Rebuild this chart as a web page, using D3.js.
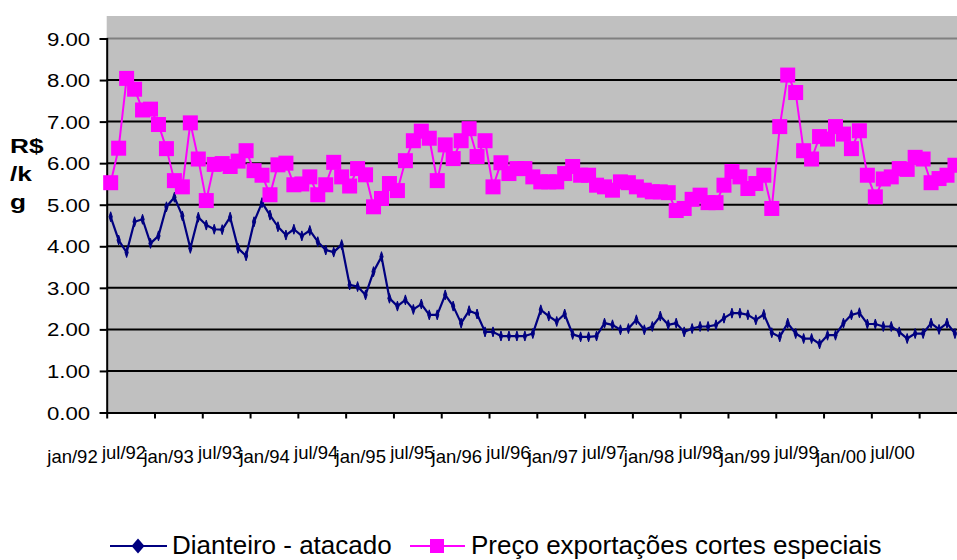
<!DOCTYPE html>
<html>
<head>
<meta charset="utf-8">
<script src="https://cdn.jsdelivr.net/npm/d3@7"></script>
<style>
  html, body { margin: 0; padding: 0; background: #ffffff; }
  svg { display: block; font-family: "Liberation Sans", Arial, sans-serif; }
</style>
</head>
<body>
<svg id="chart" width="957" height="560"></svg>
<script>
// Monthly series, jan/92 onwards (R$/kg)
const monthNames = ["jan","fev","mar","abr","mai","jun","jul","ago","set","out","nov","dez"];
const years = ["92","93","94","95","96","97","98","99","00"];
const categories = [];
years.forEach(yr => monthNames.forEach(m => categories.push(m + "/" + yr)));

const tickLabels = ["jan/92","jul/92","jan/93","jul/93","jan/94","jul/94","jan/95","jul/95","jan/96",
                    "jul/96","jan/97","jul/97","jan/98","jul/98","jan/99","jul/99","jan/00","jul/00"];

const yTicks = [0,1,2,3,4,5,6,7,8,9];

const dianteiro = [
  4.71,4.15,3.85,4.59,4.65,4.07,4.25,4.95,5.18,4.73,3.95,4.70,
  4.51,4.41,4.40,4.70,3.95,3.77,4.59,5.05,4.75,4.47,4.27,4.41,
  4.25,4.38,4.11,3.91,3.86,4.04,3.07,3.03,2.83,3.39,3.75,2.75,
  2.56,2.71,2.48,2.61,2.35,2.35,2.83,2.56,2.15,2.45,2.37,1.94,
  1.94,1.84,1.84,1.84,1.84,1.90,2.47,2.32,2.19,2.37,1.88,1.82,
  1.82,1.84,2.15,2.11,1.99,2.02,2.23,1.99,2.07,2.32,2.11,2.15,
  1.94,2.02,2.07,2.07,2.11,2.27,2.39,2.39,2.35,2.23,2.36,1.92,
  1.82,2.15,1.90,1.78,1.78,1.65,1.86,1.86,2.15,2.35,2.40,2.13,
  2.13,2.07,2.07,1.94,1.78,1.90,1.90,2.15,2.00,2.15,1.90
];

const exportacao = [
  5.53,6.36,8.04,7.78,7.28,7.30,6.93,6.35,5.58,5.43,6.97,6.10,
  5.10,5.97,5.99,5.92,6.05,6.30,5.82,5.71,5.24,5.96,6.00,5.48,
  5.50,5.67,5.24,5.48,6.02,5.67,5.45,5.87,5.72,4.95,5.15,5.51,
  5.34,6.06,6.54,6.77,6.60,5.58,6.44,6.11,6.54,6.83,6.16,6.54,
  5.43,6.01,5.75,5.87,5.87,5.67,5.55,5.55,5.55,5.75,5.92,5.71,
  5.71,5.47,5.43,5.35,5.55,5.53,5.43,5.35,5.31,5.31,5.29,4.86,
  4.91,5.13,5.23,5.05,5.05,5.47,5.80,5.67,5.39,5.51,5.71,4.91,
  6.88,8.12,7.70,6.30,6.10,6.64,6.58,6.88,6.70,6.35,6.78,5.71,
  5.19,5.62,5.67,5.87,5.85,6.14,6.10,5.53,5.63,5.71,5.95
];

const seriesNames = ["Dianteiro - atacado", "Preço exportações cortes especiais"];
const NAVY = "#000080", MAGENTA = "#FF00FF";

const svg = d3.select("#chart");

// Scales: month slots along x, value along y
const plotLeft = 106.7, plotTop = 16;
const x = d3.scaleLinear().domain([0, categories.length]).range([plotLeft, plotLeft + categories.length * 7.965]);
const y = d3.scaleLinear().domain([0, 9]).range([412.5, 38.5]);
const cx = i => x(i + 0.5);

// Plot area
svg.append("rect")
  .attr("x", plotLeft).attr("y", plotTop)
  .attr("width", x.range()[1] - plotLeft).attr("height", y(0) - plotTop)
  .attr("fill", "#C0C0C0");

// Horizontal gridlines
svg.append("g").selectAll("line")
  .data(yTicks.filter(v => v > 0))
  .join("line")
  .attr("x1", plotLeft).attr("x2", x.range()[1])
  .attr("y1", d => y(d)).attr("y2", d => y(d))
  .attr("stroke", d => d === 9 ? "#808080" : "#000000")
  .attr("stroke-width", 2);

// Y axis
const yAxis = svg.append("g")
  .attr("transform", `translate(${plotLeft},0)`)
  .call(d3.axisLeft(y).tickValues(yTicks).tickSize(7).tickPadding(0).tickFormat(d3.format(".2f")));
yAxis.select(".domain").attr("stroke", "#000").attr("stroke-width", 2);
yAxis.selectAll(".tick line").attr("stroke", "#000").attr("stroke-width", 2);
yAxis.selectAll(".tick text")
  .attr("x", null).attr("dy", null)
  .attr("text-anchor", "end")
  .attr("transform", "translate(-16.5,6.6) scale(1.2,1)")
  .attr("fill", "#000")
  .style("font-size", "18.5px")
  .style("font-family", "'Liberation Sans', Arial, sans-serif");

// X axis: ticks at half-year boundaries
const tickIdx = tickLabels.map((_, k) => k * 6);
const xAxis = svg.append("g")
  .attr("transform", `translate(0,${y(0)})`)
  .call(d3.axisBottom(x).tickValues(tickIdx).tickSize(6).tickSizeOuter(0).tickFormat(""));
xAxis.select(".domain").attr("stroke", "#000").attr("stroke-width", 2);
xAxis.selectAll(".tick line").attr("stroke", "#000").attr("stroke-width", 2);

svg.append("g").selectAll("text")
  .data(tickLabels)
  .join("text")
  .attr("x", (d, k) => x(k * 6) + (k % 2 === 0 ? -34.2 : -30.7) + 0.25 * k)
  .attr("y", (d, k) => k % 2 === 0 ? 463 : 459)
  .attr("text-anchor", "middle")
  .attr("fill", "#000")
  .style("font-size", "18.5px")
  .text(d => d);

// Y axis title
svg.append("g").selectAll("text")
  .data(["R$", "/k", "g"])
  .join("text")
  .attr("transform", (d, i) => `translate(10,${153 + i * 28}) scale(1.25,1)`)
  .attr("fill", "#000")
  .style("font-size", "21px")
  .style("font-weight", "bold")
  .text(d => d);

// Series: Dianteiro (navy with small diamonds)
const lineGen = d3.line().x((d, i) => cx(i)).y(d => y(d));
const diamondPath = (hw, hh) => `M0,${-hh}L${hw},0L0,${hh}L${-hw},0Z`;

svg.append("path")
  .datum(dianteiro)
  .attr("d", lineGen)
  .attr("fill", "none")
  .attr("stroke", NAVY)
  .attr("stroke-width", 2.2)
  .attr("stroke-linejoin", "round");
svg.append("g").selectAll("path")
  .data(dianteiro)
  .join("path")
  .attr("transform", (d, i) => `translate(${cx(i)},${y(d)})`)
  .attr("d", diamondPath(1.6, 5))
  .attr("fill", NAVY)
  .attr("stroke", NAVY)
  .attr("stroke-width", 1);

// Series: export price (magenta with squares)
svg.append("path")
  .datum(exportacao)
  .attr("d", lineGen)
  .attr("fill", "none")
  .attr("stroke", MAGENTA)
  .attr("stroke-width", 2)
  .attr("stroke-linejoin", "round");
const sq = 15;
svg.append("g").selectAll("rect")
  .data(exportacao)
  .join("rect")
  .attr("x", (d, i) => cx(i) - sq / 2)
  .attr("y", d => y(d) - sq / 2)
  .attr("width", sq).attr("height", sq)
  .attr("fill", MAGENTA);

// Legend
const legend = svg.append("g");
const legY = 546;
const legBase = 553.5;
legend.append("line").attr("x1", 110).attr("x2", 167).attr("y1", legY).attr("y2", legY)
  .attr("stroke", NAVY).attr("stroke-width", 2);
legend.append("path").attr("transform", `translate(138,${legY})`).attr("d", diamondPath(6.5, 7.5)).attr("fill", NAVY);
legend.append("text")
  .attr("x", 172).attr("y", legBase)
  .style("font-size", "26px").attr("fill", "#000")
  .text(seriesNames[0]);

legend.append("line").attr("x1", 410).attr("x2", 465).attr("y1", legY).attr("y2", legY)
  .attr("stroke", MAGENTA).attr("stroke-width", 2);
legend.append("rect").attr("x", 430).attr("y", legY - 7).attr("width", 14).attr("height", 14).attr("fill", MAGENTA);
legend.append("text")
  .attr("x", 471).attr("y", legBase)
  .style("font-size", "26px").attr("fill", "#000")
  .text(seriesNames[1]);
</script>
</body>
</html>
